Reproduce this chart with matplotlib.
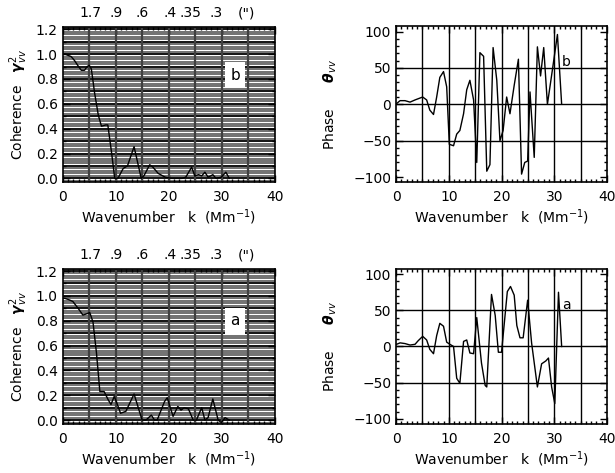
import numpy as np
import matplotlib
matplotlib.use('Agg')
import matplotlib.pyplot as plt
from matplotlib.ticker import MultipleLocator

# coherence, panel b (upper) and a (lower)
coh_b_k = [0, 0.5, 1.0, 1.6, 2.2, 2.9, 3.5, 4.1, 4.6, 5.0, 5.4, 6.0, 6.7, 7.3, 8.1, 8.5,
           9.2, 9.8, 10.4, 11.4, 12.2, 13.45, 14.8, 15.3, 16.4, 17.0, 18.0, 19.3, 20.5,
           21.5, 22.5, 23.2, 24.3, 24.9, 25.6, 26.2, 26.8, 27.4, 27.9, 28.3, 28.9, 29.9,
           30.75, 31.4]
coh_b = [1.0, 1.0, 0.99, 0.98, 0.95, 0.905, 0.87, 0.87, 0.9, 0.91, 0.88, 0.69, 0.51, 0.42,
         0.43, 0.43, 0.21, 0.0, 0.0, 0.08, 0.1, 0.255, 0.0, 0.02, 0.11, 0.09, 0.04, 0.01,
         0.0, 0.0, 0.0, 0.01, 0.09, 0.02, 0.03, 0.02, 0.05, 0.01, 0.02, 0.03, 0.0, 0.01,
         0.05, 0.0]

coh_a_k = [0, 0.4, 1.1, 1.9, 2.9, 3.8, 4.8, 5.1, 5.7, 6.35, 7.0, 7.8, 8.55, 9.1, 9.7, 10.1,
           10.9, 11.9, 13.45, 14.96, 15.7, 16.7, 17.3, 17.8, 19.2, 19.7, 20.8, 21.7, 22.3,
           22.9, 23.7, 24.6, 25.2, 26.2, 26.8, 27.4, 28.3, 29.3, 29.9, 30.6, 31.4]
coh_a = [0.98, 0.98, 0.97, 0.955, 0.9, 0.845, 0.86, 0.865, 0.79, 0.545, 0.23, 0.23, 0.165,
         0.125, 0.19, 0.15, 0.055, 0.07, 0.21, 0.0, 0.0, 0.04, 0.0, 0.0, 0.15, 0.18, 0.03,
         0.11, 0.08, 0.1, 0.09, 0.0, 0.0, 0.1, 0.0, 0.02, 0.17, 0.0, -0.02, 0.02, 0.0]

# phase, panel b (upper) and a (lower)
ph_b_k = [0.1, 0.76, 1.7, 2.65, 3.6, 5.05, 5.8, 6.4, 7.1, 7.7, 8.3, 9.0, 9.6, 10.1, 10.9,
          11.5, 12.1, 12.8, 13.4, 14.0, 14.7, 15.3, 15.9, 16.6, 17.2, 17.8, 18.4, 19.1,
          19.7, 20.3, 20.97, 21.6, 22.4, 23.2, 23.8, 24.4, 24.95, 25.4, 26.2, 26.8, 27.4,
          28.0, 28.7, 29.5, 30.6, 31.4]
ph_b = [1, 5, 5, 3, 6, 10, 6, -8, -14, 10, 37, 45, 24, -55, -57, -41, -36, -13, 20, 33, 6,
        -80, 71, 66, -92, -83, 78, 33, -50, -36, 10, -13, 26, 62, -96, -80, -78, 17, -73,
        79, 39, 78, 0, 40, 96, 0]

ph_a_k = [0.1, 0.76, 1.7, 2.65, 3.6, 4.2, 5.05, 5.8, 6.4, 7.1, 7.7, 8.3, 9.0, 9.6, 10.2,
          10.9, 11.5, 12.1, 12.8, 13.4, 14.0, 14.7, 15.3, 16.2, 16.9, 17.2, 18.1, 18.8,
          19.4, 20.0, 21.1, 21.7, 22.4, 22.9, 23.5, 24.1, 24.95, 25.7, 26.8, 27.6, 28.4,
          28.9, 29.5, 30.1, 30.8, 31.4]
ph_a = [3, 5, 4, 2, 3, 8, 14, 9, -4, -10, 15, 32, 28, 6, 3, 0, -44, -51, 7, 9, -9, -10,
        40, -23, -54, -56, 72, 43, -8, -8, 76, 83, 71, 29, 12, 12, 64, 5, -56, -24, -20,
        -16, -56, -79, 75, 0]

top_ticks = [5.2, 10.0, 15.0, 20.2, 24.0, 29.0, 34.7]
top_labels = ['1.7', '.9', '.6', '.4', '.35', '.3', '(")']

plt.rcParams['font.family'] = 'DejaVu Sans'
plt.rcParams['font.size'] = 10

fig = plt.figure(figsize=(6.15, 4.73), dpi=100)


def style_ticks(ax):
    ax.xaxis.set_major_locator(MultipleLocator(10))
    ax.xaxis.set_minor_locator(MultipleLocator(1))
    ax.tick_params(which='both', direction='in', top=True, right=True)
    ax.tick_params(which='major', length=5, width=1)
    ax.tick_params(which='minor', length=2.5, width=1)
    ax.tick_params(axis='x', which='major', pad=6)
    for s in ax.spines.values():
        s.set_linewidth(1.2)
    ax.set_xlim(0, 40)
    ax.set_xlabel('Wavenumber   k  (Mm$^{-1}$)', labelpad=2)


def coherence(rect, k, c, letter, ypos):
    ax = fig.add_axes(rect)
    for y in np.arange(-0.02, 1.221, 0.02):
        col = 'black' if abs(round(y * 10) - y * 10) < 1e-6 else '0.4'
        ax.axhline(y, color=col, lw=1.3, zorder=1)
    for x in range(5, 40, 5):
        ax.axvline(x, color='0.25', lw=1.6, zorder=2)
    ax.plot(k, c, color='black', lw=1.0, zorder=3)
    ax.text(32.5, ypos, letter, ha='center', va='center', fontsize=11, zorder=4,
            bbox=dict(facecolor='white', edgecolor='none', pad=4))
    ax.set_ylim(-0.03, 1.215)
    ax.set_yticks(np.arange(0, 1.21, 0.2))
    ax.set_yticklabels(['%.1f' % v for v in np.arange(0, 1.21, 0.2)])
    ax.yaxis.set_minor_locator(MultipleLocator(0.1))
    style_ticks(ax)
    ax.set_ylabel(r'Coherence   $\boldsymbol{\gamma}^{2}_{vv}$', labelpad=4)
    sec = ax.secondary_xaxis('top')
    sec.set_xticks(top_ticks)
    sec.set_xticklabels(top_labels)
    sec.tick_params(length=0, pad=5)
    return ax


def phase(rect, k, p, letter):
    ax = fig.add_axes(rect)
    for x in range(5, 40, 5):
        ax.axvline(x, color='black', lw=1.0, zorder=1)
    for y in [-50, 0, 50]:
        ax.axhline(y, color='black', lw=1.0, zorder=1)
    ax.plot(k, p, color='black', lw=1.0, zorder=3)
    ax.text(32.3, 58, letter, ha='center', va='center', fontsize=10)
    ax.set_ylim(-107, 107)
    ax.set_yticks([-100, -50, 0, 50, 100])
    ax.set_yticklabels(['\u2212100', '\u221250', '0', '50', '100'])
    ax.yaxis.set_minor_locator(MultipleLocator(10))
    style_ticks(ax)
    ax.set_ylabel(r'Phase      $\boldsymbol{\theta}_{vv}$', labelpad=10)
    return ax


coherence([0.102, 0.615, 0.345, 0.327], coh_b_k, coh_b, 'b', 0.83)
coherence([0.102, 0.104, 0.345, 0.327], coh_a_k, coh_a, 'a', 0.80)
phase([0.644, 0.615, 0.343, 0.329], ph_b_k, ph_b, 'b')
phase([0.644, 0.104, 0.343, 0.327], ph_a_k, ph_a, 'a')

fig.savefig('out.png', dpi=100)
